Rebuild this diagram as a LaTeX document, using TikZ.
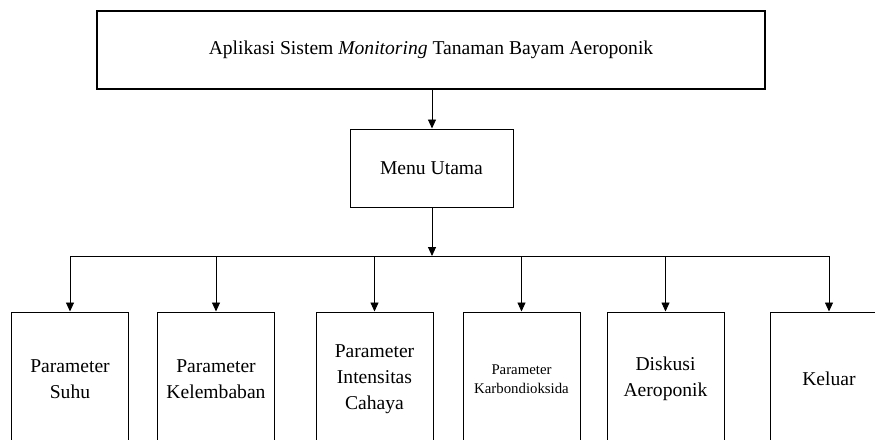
\documentclass[tikz,border=0pt]{standalone}
\usepackage{fontspec}
\setmainfont{Liberation Serif}
\usetikzlibrary{arrows.meta}
\begin{document}
\begin{tikzpicture}[
    x=1pt, y=-1pt,
    box/.style={draw, line width=1pt, inner sep=0pt, align=center, font=\fontsize{19.6}{26}\selectfont},
    menu/.style={box, minimum width=117pt, minimum height=134pt},
    panah/.style={-{Triangle[length=9pt,width=8pt]}, line width=0.9pt}
]
    \useasboundingbox (0,0) rectangle (875,439);
    \clip (0,0) rectangle (875,439);

    % aplikasi
    \node[box, line width=1.2pt, minimum width=668pt, minimum height=78pt] (app) at (431, 50) {Aplikasi Sistem \textit{Monitoring} Tanaman Bayam Aeroponik};

    % menu utama
    \node[box, minimum width=163pt, minimum height=78pt] (utama) at (431.5, 168) {Menu Utama};

    % sub menu
    \node[menu] (suhu) at (70, 379) {Parameter\\Suhu};
    \node[menu] (lembab) at (216, 379) {Parameter\\Kelembaban};
    \node[menu] (cahaya) at (374.5, 379) {Parameter\\Intensitas\\Cahaya};
    \node[menu, font=\fontsize{14.8}{19}\selectfont] (co2) at (521.5, 379) {Parameter\\Karbondioksida};
    \node[menu] (diskusi) at (665.5, 379) {Diskusi\\Aeroponik};
    \node[menu] (keluar) at (829, 379) {Keluar};

    % garis
    \coordinate (bus) at (432, 256);
    \draw[panah] (app.south -| bus) -- (utama.north -| bus);
    \draw[panah] (utama.south -| bus) -- (bus);
    \draw[line width=0.9pt] (suhu.north |- bus) -- (keluar.north |- bus);
    \foreach \n in {suhu, lembab, cahaya, co2, diskusi, keluar}
        \draw[panah] (\n.north |- bus) -- (\n.north);
\end{tikzpicture}
\end{document}
